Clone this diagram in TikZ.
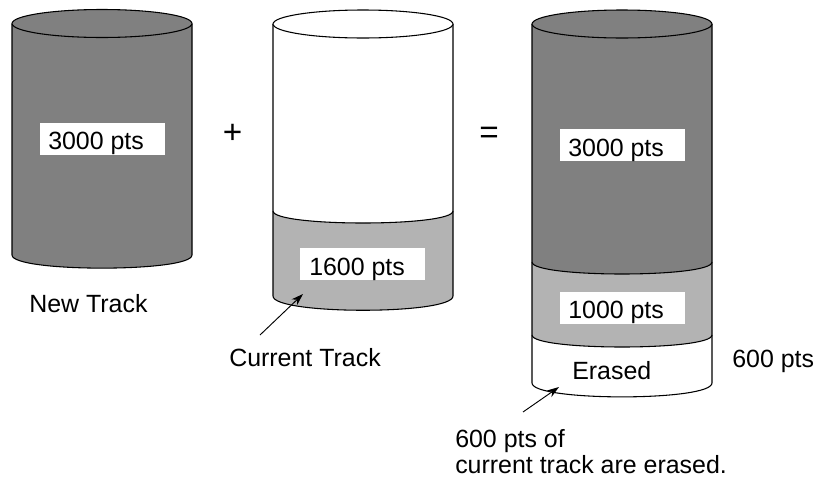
\documentclass[tikz,border=0pt]{standalone}
\usepackage{fontspec}
\setmainfont{Liberation Sans}
\usetikzlibrary{arrows.meta}
\definecolor{darkfill}{HTML}{808080}
\definecolor{lightfill}{HTML}{B3B3B3}
\tikzset{
  outline/.style={draw=black, line width=0.8pt},
  txt/.style={inner sep=0pt, anchor=base west, font=\fontsize{18.7}{22}\selectfont, text=black},
  sym/.style={inner sep=0pt, font=\fontsize{25}{28}\selectfont, text=black},
  lblbox/.style={fill=white, draw=none, inner sep=0pt, minimum width=93.75pt, minimum height=24pt, anchor=north west},
  pointer/.style={draw=black, line width=0.7pt, -{Stealth[length=9pt,width=6pt]}}
}
\begin{document}
\begin{tikzpicture}[x=0.75pt,y=-0.75pt]
\useasboundingbox (0,0) rectangle (824,479);
% ---------- cylinder 1 : New Track ----------
\fill[darkfill] (12,23.5) -- (12,255) .. controls (12,272.5) and (192,272.5) .. (192,255) -- (192,23.5) -- cycle;
\draw[outline] (12,23.5) -- (12,255) .. controls (12,272.5) and (192,272.5) .. (192,255) -- (192,23.5);
\draw[outline, fill=darkfill] (102,23.5) ellipse [x radius=67.5pt, y radius=10.5pt];
\node[lblbox] (b1) at (40,123) {};
\node[txt] (t1) at (48,149) {3000 pts};
\node[txt] (newtrack) at (29,312) {New Track};
% plus
\node[sym] (plus) at (232.5,134) {+};
% ---------- cylinder 2 : Current Track ----------
\fill[white] (273,24) -- (273,211) .. controls (273,227) and (453,227) .. (453,211) -- (453,24) -- cycle;
\fill[lightfill] (273,211) .. controls (273,227) and (453,227) .. (453,211) -- (453,296) .. controls (453,315) and (273,315) .. (273,296) -- cycle;
\draw[outline] (273,24) -- (273,296) .. controls (273,315) and (453,315) .. (453,296) -- (453,24);
\draw[outline] (273,211) .. controls (273,227) and (453,227) .. (453,211);
\draw[outline, fill=white] (363,24) ellipse [x radius=67.5pt, y radius=10.5pt];
\node[lblbox] (b2) at (300,248) {};
\node[txt] (t2) at (309,275) {1600 pts};
\node[txt] (curtrack) at (229,366) {Current Track};
\coordinate (a1s) at (260,335);
\coordinate (a1e) at (303,294);
\draw[pointer] (a1s) -- (a1e);
% equals
\node[sym] (eq) at (489,135) {=};
% ---------- cylinder 3 : result ----------
\fill[darkfill] (532,24) -- (532,262) .. controls (532,278) and (712,278) .. (712,262) -- (712,24) -- cycle;
\fill[lightfill] (532,262) .. controls (532,278) and (712,278) .. (712,262) -- (712,335) .. controls (712,351) and (532,351) .. (532,335) -- cycle;
\draw[outline] (532,24) -- (532,383) .. controls (532,401.5) and (712,401.5) .. (712,383) -- (712,24);
\draw[outline] (532,262) .. controls (532,278) and (712,278) .. (712,262);
\draw[outline] (532,335) .. controls (532,351) and (712,351) .. (712,335);
\draw[outline, fill=darkfill] (622,24) ellipse [x radius=67.5pt, y radius=10.5pt];
\node[lblbox] (b3) at (560,129) {};
\node[txt] (t3) at (568,156) {3000 pts};
\node[lblbox] (b4) at (560,292) {};
\node[txt] (t4) at (568,318) {1000 pts};
\node[txt] (erased) at (572,379) {Erased};
\node[txt] (six) at (732,367) {600 pts};
\node[txt] (note1) at (455,447) {600 pts of};
\node[txt] (note2) at (455,473) {current track are erased.};
\coordinate (a2s) at (523,412);
\coordinate (a2e) at (559,387);
\draw[pointer] (a2s) -- (a2e);
\end{tikzpicture}
\end{document}
